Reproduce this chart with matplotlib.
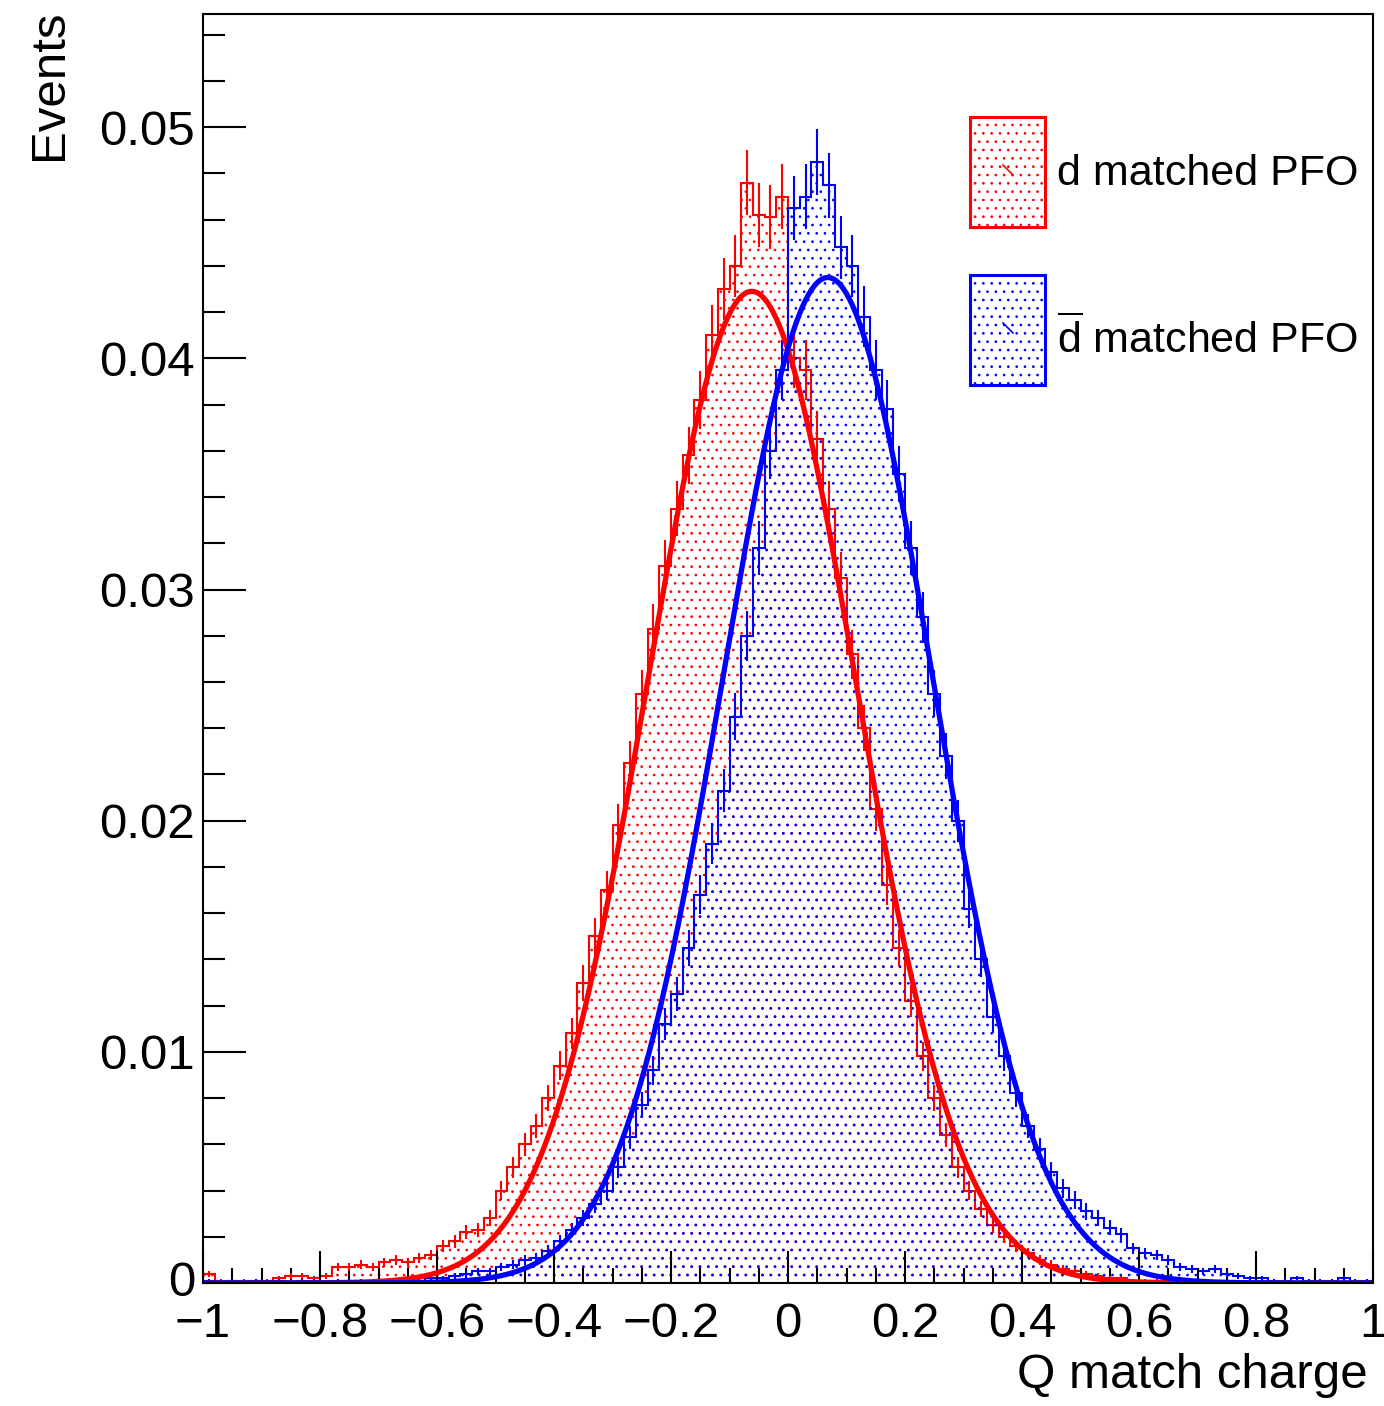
import numpy as np
import matplotlib
matplotlib.use("Agg")
import matplotlib.pyplot as plt
from matplotlib.patches import Rectangle
from matplotlib.lines import Line2D
from matplotlib.ticker import MultipleLocator, FuncFormatter

plt.rcParams.update({
    "font.family": "Liberation Sans",
    "mathtext.fontset": "custom",
    "mathtext.rm": "Liberation Sans",
    "hatch.linewidth": 0.7,
})

# ── data (100 bins, width 0.02, -1 → 1) ────────────────────────────────────
n_bins = 100
x_range = (-1.0, 1.0)
n_entries = 24000          # sets the statistical error bars sqrt(n)/N

d_pfo = [
    0.0004, 0.0001, 0.0001, 0.0001, 0.0001, 0.0001, 0.0002, 0.0003, 0.0003, 0.0002,
    0.0003, 0.0007, 0.0007, 0.0008, 0.0007, 0.0009, 0.0010, 0.0009, 0.0011, 0.0012,
    0.0016, 0.0018, 0.0022, 0.0023, 0.0028, 0.0040, 0.0050, 0.0060, 0.0068, 0.0080,
    0.0094, 0.0108, 0.0130, 0.0150, 0.0170, 0.0198, 0.0225, 0.0255, 0.0283, 0.0310,
    0.0335, 0.0358, 0.0382, 0.0410, 0.0430, 0.0440, 0.0476, 0.0462, 0.0461, 0.0470,
    0.0400, 0.0395, 0.0365, 0.0335, 0.0305, 0.0272, 0.0240, 0.0205, 0.0172, 0.0145,
    0.0122, 0.0098, 0.0080, 0.0064, 0.0050, 0.0040, 0.0032, 0.0025, 0.0020, 0.0016,
    0.0013, 0.0010, 0.0008, 0.0006, 0.0005, 0.0004, 0.0003, 0.0002, 0.0002, 0.0001,
    0.0001, 0.0001, 0.0000, 0.0001, 0.0000, 0.0000, 0.0000, 0.0000, 0.0000, 0.0000,
    0.0000, 0.0000, 0.0000, 0.0000, 0.0000, 0.0000, 0.0000, 0.0000, 0.0000, 0.0000,
]
dbar_pfo = [
    0.0001, 0.0000, 0.0001, 0.0000, 0.0001, 0.0000, 0.0001, 0.0000, 0.0001, 0.0001,
    0.0000, 0.0001, 0.0001, 0.0001, 0.0001, 0.0001, 0.0001, 0.0002, 0.0001, 0.0002,
    0.0002, 0.0003, 0.0004, 0.0005, 0.0005, 0.0007, 0.0008, 0.0010, 0.0011, 0.0014,
    0.0018, 0.0023, 0.0028, 0.0034, 0.0040, 0.0050, 0.0063, 0.0077, 0.0092, 0.0112,
    0.0125, 0.0145, 0.0168, 0.0190, 0.0213, 0.0245, 0.0280, 0.0318, 0.0360, 0.0395,
    0.0465, 0.0470, 0.0485, 0.0475, 0.0448, 0.0440, 0.0418, 0.0395, 0.0378, 0.0350,
    0.0318, 0.0288, 0.0255, 0.0228, 0.0200, 0.0162, 0.0140, 0.0115, 0.0098, 0.0082,
    0.0068, 0.0058, 0.0048, 0.0041, 0.0036, 0.0031, 0.0028, 0.0024, 0.0021, 0.0015,
    0.0013, 0.0012, 0.0010, 0.0007, 0.0006, 0.0005, 0.0006, 0.0004, 0.0003, 0.0002,
    0.0002, 0.0001, 0.0001, 0.0002, 0.0001, 0.0001, 0.0001, 0.0002, 0.0001, 0.0001,
]
# gaussian fit results: amplitude, mean, sigma
fit_d = [0.0429, -0.062, 0.178]
fit_dbar = [0.0435, 0.068, 0.178]

labels = ["d matched PFO", r"$\overline{\mathrm{d}}$ matched PFO"]
RED = "#ff0000"
BLUE = "#0000ff"

W, H = 1384, 1406


def fx(px):
    return px / W


def fy(py):
    return 1 - py / H


fig = plt.figure(figsize=(W / 100, H / 100), dpi=100)
ax = fig.add_axes([fx(203), fy(1283), fx(1373) - fx(203), fy(14) - fy(1283)])

edges = np.linspace(x_range[0], x_range[1], n_bins + 1)
centers = 0.5 * (edges[1:] + edges[:-1])


def draw_hist(vals, color):
    vals = np.asarray(vals)
    ax.stairs(vals, edges, fill=True, facecolor="none", edgecolor=color,
              hatch="..", linewidth=0)
    ax.stairs(vals, edges, color=color, linewidth=1.5)
    err = np.sqrt(vals / n_entries)
    m = vals > 0
    ax.vlines(centers[m], (vals - err)[m], (vals + err)[m], colors=color, linewidth=1.5)


def draw_fit(p, color):
    xs = np.linspace(x_range[0], x_range[1], 801)
    ax.plot(xs, p[0] * np.exp(-0.5 * ((xs - p[1]) / p[2]) ** 2),
            color=color, linewidth=3.8, solid_capstyle="butt")


draw_hist(d_pfo, RED)
draw_hist(dbar_pfo, BLUE)
draw_fit(fit_d, RED)
draw_fit(fit_dbar, BLUE)

ax.set_xlim(-1, 1)
ax.set_ylim(0, 0.0549)

ax.xaxis.set_major_locator(MultipleLocator(0.2))
ax.xaxis.set_minor_locator(MultipleLocator(0.05))
ax.yaxis.set_major_locator(MultipleLocator(0.01))
ax.yaxis.set_minor_locator(MultipleLocator(0.002))


def fmt(v, _):
    s = f"{v:.2f}".rstrip("0").rstrip(".")
    if s in ("-0", "0"):
        return "0"
    return s.replace("-", "\u2212")


def fmt_y(v, pos):
    # the y "0" is placed by hand so it sits clear of the x "-1"
    return "" if abs(v) < 1e-9 else fmt(v, pos)


ax.xaxis.set_major_formatter(FuncFormatter(fmt))
ax.yaxis.set_major_formatter(FuncFormatter(fmt_y))

ax.tick_params(axis="both", which="both", direction="in", width=1.5,
               top=False, right=False, labelsize=35.5, color="black")
ax.tick_params(axis="x", which="major", length=23, pad=14)
ax.tick_params(axis="x", which="minor", length=11)
ax.tick_params(axis="y", which="major", length=31, pad=6)
ax.tick_params(axis="y", which="minor", length=16)
for sp in ax.spines.values():
    sp.set_linewidth(1.5)

fig.text(fx(195), fy(1296), "0", ha="right", va="baseline", fontsize=35.5)
fig.text(fx(1368), fy(1375), "Q match charge", ha="right", va="center", fontsize=35.5)
fig.text(fx(50), fy(10), "Events", rotation=90, ha="center", va="top", fontsize=35.5)

# legend, ROOT style
for (top, bot, c, lab, base) in [(117, 227, RED, labels[0], 185),
                                  (275, 385, BLUE, labels[1], 353)]:
    fig.add_artist(Rectangle((fx(970), fy(bot)), fx(1045) - fx(970), fy(top) - fy(bot),
                             transform=fig.transFigure, facecolor="none",
                             edgecolor=c, hatch="..", linewidth=2.2))
    mid = (top + bot) / 2
    fig.add_artist(Line2D([fx(1003), fx(1013)], [fy(mid - 7), fy(mid + 3)],
                          transform=fig.transFigure, color=c, linewidth=1.2))
    fig.text(fx(1057), fy(base), lab, ha="left", va="baseline", fontsize=31)

fig.savefig("out.png", dpi=100)
